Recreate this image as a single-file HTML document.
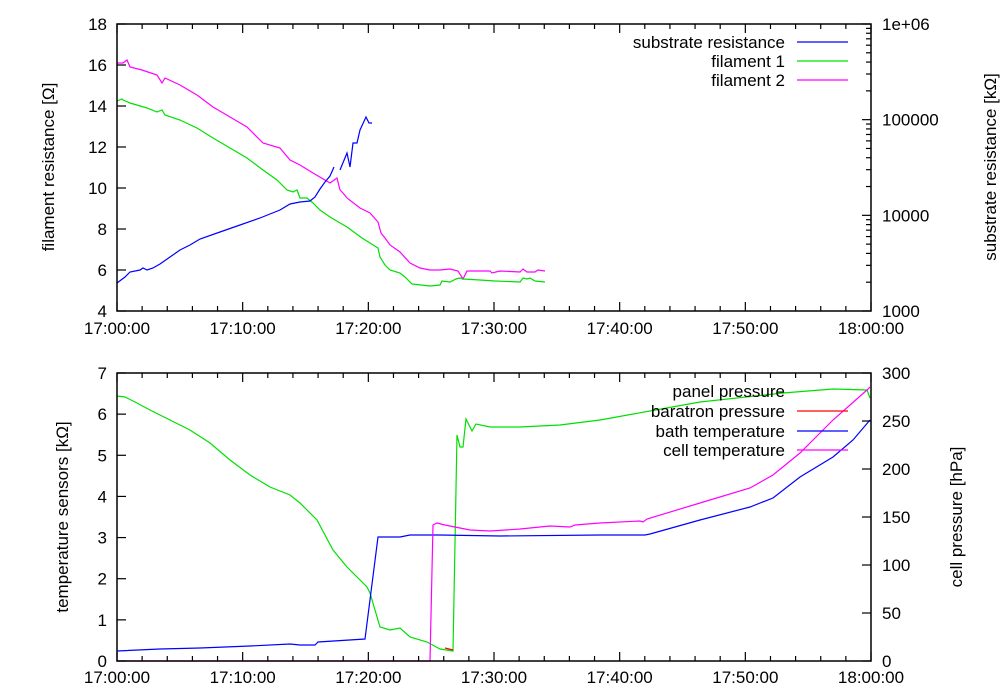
<!DOCTYPE html>
<html><head><meta charset="utf-8"><style>
html,body{margin:0;padding:0;background:#fff}
svg{display:block}
text{font-family:"Liberation Sans",sans-serif;font-size:17px;fill:#000}
</style></head><body>
<svg id="s" width="1000" height="700" xmlns="http://www.w3.org/2000/svg">
<g fill="none" stroke-width="1.2">
<polyline stroke="#ff00ff" points="117,63 123,63 127,60 130,67 142,70 157,75 162,83 165,78 180,85 197,95 213,107 230,117 247,127 263,143 280,148 290,160 300,165 313,173 330,183 337,178 340,190 343,193 347,198 360,208 370,213 378,222 381,233 385,238 390,245 400,252 410,263 420,268 430,270 440,270 450,269 458,271 463,279 467,271 490,271 492,273 500,271 520,272 523,269 527,272 535,272 538,270 545,271"/>
<polyline stroke="#00e000" points="117,101 122,99 123,100 130,103 147,108 157,112 162,110 165,115 180,120 197,128 213,138 230,148 247,158 263,170 277,180 287,190 293,192 297,190 300,198 307,198 313,203 320,210 330,217 347,227 362,238 370,243 378,248 380,257 385,265 390,270 400,273 405,277 412,284 430,286 440,285 442,281 450,282 456,279 460,278 463,279 480,280 495,281 520,282 523,278 527,279 530,278 535,281 545,282"/>
<polyline stroke="#0000ff" points="117,283 125,277 130,272 140,270 143,268 147,270 153,268 160,264 170,257 180,250 190,245 200,239 220,232 240,225 260,218 270,214 280,210 290,204 300,202 310,201 315,197 320,189 325,182 330,176 334,167"/>
<polyline stroke="#0000ff" points="340,170 347,153 350,167 353,143 357,143 360,130 366,117 369,123 372,123"/>
<polyline stroke="#00e000" points="117,396 125,397 135,402 150,410 170,420 190,430 210,443 230,460 250,475 270,487 290,495 300,503 317,520 333,550 347,567 367,587 370,593 380,627 390,630 400,628 410,637 427,642 440,649 453,651 457,435 460,447 463,447 466,419 472,431 476,424 490,427 500,427 520,427 560,425 600,420 650,411 700,402 783,393 833,389 867,390 870,398"/>
<polyline stroke="#0000ff" points="117,651 160,649 200,648 250,646 290,644 300,645 315,645 318,642 365,639 378,537 387,537 400,537 410,535 440,535 500,536 600,535 645,535 650,534 700,520 750,507 773,498 800,477 833,457 853,440 870,420"/>
<polyline stroke="#ff00ff" points="117,661 430,661 433,525 437,523 445,525 460,528 470,530 490,531 520,529 550,526 570,527 575,525 600,523 640,521 643,522 647,519 700,503 750,488 773,475 800,453 833,420 867,390 870,387"/>
<polyline stroke="#ff0000" points="445,648 453,650"/>
<line stroke="#0000ff" x1="797" y1="42" x2="848" y2="42"/>
<line stroke="#00e000" x1="797" y1="61" x2="848" y2="61"/>
<line stroke="#ff00ff" x1="797" y1="80" x2="848" y2="80"/>
<line stroke="#ff0000" x1="797" y1="411" x2="848" y2="411"/>
<line stroke="#0000ff" x1="797" y1="431" x2="848" y2="431"/>
<line stroke="#ff00ff" x1="797" y1="450" x2="848" y2="450"/>
</g>
<g id="ax" stroke="#000" stroke-width="1.2" fill="none">
<rect x="117" y="24" width="754" height="287" stroke-width="1.5"/>
<rect x="117" y="373" width="754" height="288" stroke-width="1.5"/>
</g>
<g id="tx" text-anchor="end">
<text x="785" y="48">substrate resistance</text>
<text x="785" y="67">filament 1</text>
<text x="785" y="86">filament 2</text>
<text x="785" y="397">panel pressure</text>
<text x="785" y="417">baratron pressure</text>
<text x="785" y="437">bath temperature</text>
<text x="785" y="456">cell temperature</text>
</g>
<text x="0" y="0" text-anchor="middle" transform="translate(54,167) rotate(-90)">filament resistance [Ω]</text>
<text x="0" y="0" text-anchor="middle" transform="translate(996,167) rotate(-90)">substrate resistance [kΩ]</text>
<text x="0" y="0" text-anchor="middle" transform="translate(68,517) rotate(-90)">temperature sensors [kΩ]</text>
<text x="0" y="0" text-anchor="middle" transform="translate(962,517) rotate(-90)">cell pressure [hPa]</text>
</svg>
<script>
var s=document.getElementById('s'),ax=document.getElementById('ax'),NS='http://www.w3.org/2000/svg';
function L(x1,y1,x2,y2){var l=document.createElementNS(NS,'line');l.setAttribute('x1',x1);l.setAttribute('y1',y1);l.setAttribute('x2',x2);l.setAttribute('y2',y2);ax.appendChild(l);}
function T(x,y,t,a){var e=document.createElementNS(NS,'text');e.setAttribute('x',x);e.setAttribute('y',y);e.setAttribute('text-anchor',a);e.textContent=t;s.appendChild(e);}
var lab=['17:00:00','17:10:00','17:20:00','17:30:00','17:40:00','17:50:00','18:00:00'];
[[24,311,334],[373,661,683]].forEach(function(p){
 for(var m=0;m<=60;m+=2){var x=117+m*754/60,len=(m%10==0)?9:5;
  L(x,p[1],x,p[1]-len);L(x,p[0],x,p[0]+len);
  if(m%10==0)T(x,p[2],lab[m/10],'middle');}
});
for(var v=4;v<=18;v+=2){var y=311-(v-4)*287/14;L(117,y,126,y);T(107,y+6,''+v,'end');}
var dec=[[3,'1000'],[4,'10000'],[5,'100000'],[6,'1e+06']];
dec.forEach(function(d){var y=311-(d[0]-3)*95.67;L(871,y,862,y);T(882,y+6,d[1],'start');
 if(d[0]<6)for(var k=2;k<10;k++){var yy=y-Math.log10(k)*95.67;L(871,yy,866,yy);}});
for(var v=0;v<=7;v++){var y=661-v*288/7;L(117,y,126,y);T(107,y+6,''+v,'end');}
for(var v=0;v<=300;v+=50){var y=661-v*288/300;L(871,y,862,y);T(882,y+6,''+v,'start');}
</script>
</body></html>
